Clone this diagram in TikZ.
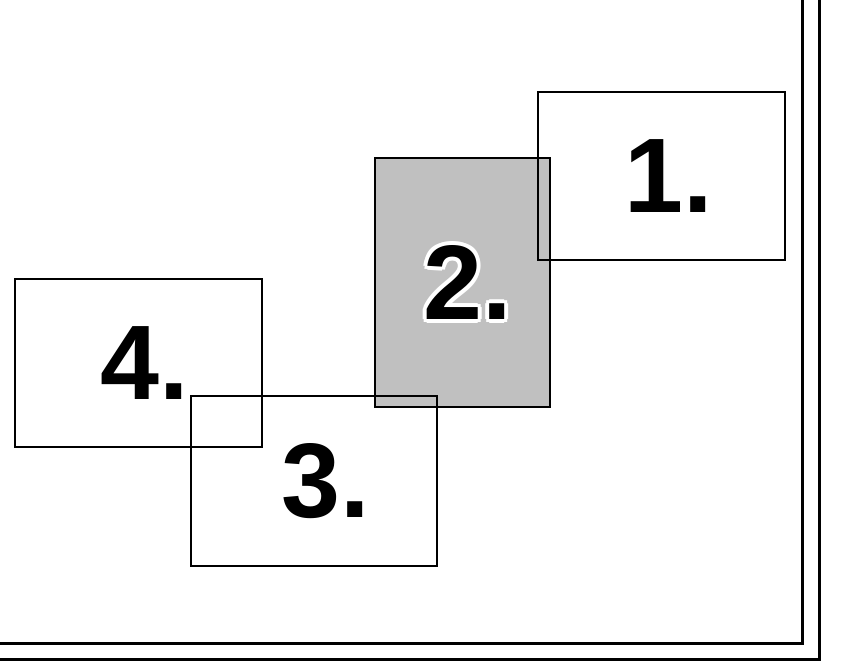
\documentclass[tikz,border=0pt]{standalone}
\usepackage{fontspec}
\setmainfont{Liberation Sans}
\definecolor{boxgray}{RGB}{192,192,192}
\tikzset{
  box/.style={draw=black,line width=1pt,inner sep=0pt,outer sep=0pt},
  numlabel/.style={font=\fontsize{53}{56}\selectfont\bfseries,inner sep=0pt}
}
\begin{document}
\begin{tikzpicture}[x=0.5pt,y=-0.5pt]
  \useasboundingbox (0,0) rectangle (841,661);
  \draw[line width=1.5pt] (802,0) -- (802,643) -- (0,643);
  \draw[line width=1.5pt] (819,0) -- (819,659) -- (0,659);
  \node[box,fill=boxgray,minimum width=87.5pt,minimum height=124.5pt] (box2) at (462.5,282.5) {};
  \node[box,minimum width=123.5pt,minimum height=84pt] (box1) at (661.5,176) {};
  \node[box,minimum width=123pt,minimum height=85pt] (box3) at (314,481) {};
  \node[box,minimum width=123.5pt,minimum height=84pt] (box4) at (138.5,363) {};
  \node[numlabel,xshift=3.5pt] (lab1) at (box1.center) {1.};
  \foreach \a in {0,45,...,315}
    \node[numlabel,text=white,xshift=2.5pt,shift={(\a:2pt)}] at (box2.center) {2.};
  \node[numlabel,xshift=2.5pt] (lab2) at (box2.center) {2.};
  \node[numlabel,xshift=6pt] (lab3) at (box3.center) {3.};
  \node[numlabel,xshift=3pt] (lab4) at (box4.center) {4.};
\end{tikzpicture}
\end{document}
